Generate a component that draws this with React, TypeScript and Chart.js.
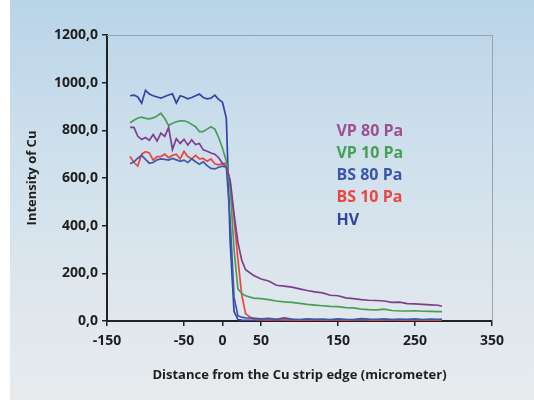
import React, { useEffect, useRef } from "react";
import { Chart, registerables } from "chart.js";

Chart.register(...registerables);

const distances = [
  -120, -115, -110, -105, -100, -95, -90, -85, -80, -75, -70, -65, -60, -55, -50, -45, -40, -35, -30, -25, -20, -15, -10, -5, 0, 5, 10, 15, 20, 25, 30,
  40, 50, 60, 70, 80, 90, 100, 110, 120, 130, 140, 150, 160, 170, 180, 190, 200, 210, 220, 230, 240, 250, 260, 270, 280, 285,
];

const vp80 = [
  812, 812, 775, 762, 770, 758, 782, 755, 788, 775, 812, 720, 765, 745, 762, 738, 760, 740, 745, 718, 712, 705, 700, 685, 662, 645, 590, 450, 330, 255, 215,
  192, 176, 168, 150, 146, 142, 135, 128, 122, 118, 108, 106, 97, 94, 90, 87, 86, 84, 78, 79, 73, 72, 70, 68, 66, 62,
];

const vp10 = [
  832, 842, 852, 855, 850, 848, 852, 860, 872, 850, 820, 830, 836, 840, 840, 835, 825, 815, 795, 795, 805, 815, 805, 770, 725, 670, 560, 300, 135, 116, 106,
  96, 94, 90, 84, 80, 78, 74, 70, 67, 64, 61, 60, 56, 55, 50, 48, 47, 50, 44, 42, 42, 43, 41, 40, 39, 39,
];

const bs80 = [
  660, 668, 683, 695, 678, 662, 665, 676, 680, 678, 675, 682, 676, 670, 675, 665, 680, 668, 658, 668, 652, 640, 638, 645, 650, 645, 420, 100, 22, 16, 13,
  12, 9, 11, 7, 13, 8, 6, 9, 7, 8, 6, 9, 7, 6, 10, 8, 7, 9, 6, 8, 7, 9, 6, 8, 7, 8,
];

const bs10 = [
  690, 665, 650, 700, 710, 705, 675, 690, 690, 700, 685, 695, 700, 680, 712, 690, 680, 695, 680, 682, 670, 680, 660, 655, 660, 662, 580, 430, 260, 110, 30,
  8, 6, 5, 7, 5, 6, 4, 5, 6, 4, 5, 6, 4, 5, 7, 5, 4, 5, 6, 4, 5, 6, 4, 5, 4, 5,
];

const hv = [
  945, 948, 940, 914, 968, 952, 945, 940, 935, 942, 948, 953, 915, 945, 940, 932, 938, 945, 952, 938, 932, 935, 948, 930, 918, 850, 330, 40, 6, 4, 3,
  3, 2, 3, 2, 3, 2, 2, 3, 2, 3, 2, 2, 3, 2, 3, 2, 2, 3, 2, 3, 2, 2, 3, 2, 2, 3,
];

const seriesNames = ["VP 80 Pa", "VP 10 Pa", "BS 80 Pa", "BS 10 Pa", "HV"];
const lineColors = ["#7e3d8e", "#4a9c5a", "#3d5aa8", "#e8473f", "#3344a6"];
const textColors = ["#a04d91", "#44a055", "#3a56a8", "#e8463f", "#33449f"];

const xTicks = [-150, -50, 0, 50, 150, 250, 350];
const yTicks = [0, 200, 400, 600, 800, 1000, 1200];

const xTitle = "Distance from the Cu strip edge (micrometer)";
const yTitle = "Intensity of Cu";

const FONT = "'Open Sans', 'DejaVu Sans', sans-serif";

export default function App() {
  const ref = useRef<HTMLCanvasElement | null>(null);

  useEffect(() => {
    document.body.style.margin = "0";
    const canvas = ref.current;
    if (!canvas) return;
    const allSeries = [vp80, vp10, bs80, bs10, hv];

    const framePlugin = {
      id: "frame",
      afterDraw(chart: any) {
        const { ctx, chartArea } = chart;
        ctx.save();
        ctx.strokeStyle = "#9aa3ab";
        ctx.lineWidth = 1;
        ctx.beginPath();
        ctx.moveTo(chartArea.left, chartArea.top + 0.5);
        ctx.lineTo(chartArea.right + 0.5, chartArea.top + 0.5);
        ctx.lineTo(chartArea.right + 0.5, chartArea.bottom);
        ctx.stroke();
        // legend text
        ctx.font = `bold 16px ${FONT}`;
        ctx.textAlign = "left";
        ctx.textBaseline = "middle";
        const x = chart.scales.x.getPixelForValue(148);
        seriesNames.forEach((name, i) => {
          ctx.fillStyle = textColors[i];
          ctx.fillText(name, x, 131 + i * 22.3);
        });
        ctx.restore();
      },
    };

    const chart = new Chart(canvas, {
      type: "line",
      data: {
        datasets: seriesNames.map((name, i) => ({
          label: name,
          data: distances.map((d, j) => ({ x: d, y: allSeries[i][j] })),
          borderColor: lineColors[i],
          backgroundColor: lineColors[i],
          borderWidth: 1.7,
          pointRadius: 0,
          tension: 0,
          fill: false,
        })),
      },
      options: {
        animation: false,
        responsive: false,
        maintainAspectRatio: false,
        layout: { padding: { top: 35, right: 42, left: 0, bottom: 0 } },
        plugins: {
          legend: { display: false },
          tooltip: { enabled: false },
        },
        scales: {
          x: {
            type: "linear",
            min: -150,
            max: 350,
            afterBuildTicks: (s: any) => {
              s.ticks = xTicks.map((v) => ({ value: v }));
            },
            afterFit: (s: any) => {
              s.height = 80;
            },
            grid: {
              display: true,
              drawOnChartArea: false,
              drawTicks: true,
              tickLength: 5,
              color: "#222",
              lineWidth: 1.5,
            },
            border: { display: true, color: "#222", width: 2 },
            ticks: {
              autoSkip: false,
              maxRotation: 0,
              padding: 7,
              color: "#1e1e1e",
              font: { family: FONT, size: 14, weight: "bold" },
            },
            title: {
              display: true,
              text: xTitle,
              color: "#1e1e1e",
              font: { family: FONT, size: 13, weight: "bold" },
              padding: { top: 0, bottom: 18 },
            },
          },
          y: {
            min: 0,
            max: 1200,
            afterBuildTicks: (s: any) => {
              s.ticks = yTicks.map((v) => ({ value: v }));
            },
            afterFit: (s: any) => {
              s.width = 107;
            },
            grid: {
              display: true,
              drawOnChartArea: false,
              drawTicks: true,
              tickLength: 5,
              color: "#222",
              lineWidth: 1.5,
            },
            border: { display: true, color: "#222", width: 2 },
            ticks: {
              padding: 4,
              color: "#1e1e1e",
              font: { family: FONT, size: 14, weight: "bold" },
              callback: (v: any) => Number(v).toFixed(1).replace(".", ","),
            },
            title: {
              display: true,
              text: yTitle,
              color: "#1e1e1e",
              font: { family: FONT, size: 13, weight: "bold" },
              padding: { top: 24, bottom: 0 },
            },
          },
        },
      },
      plugins: [framePlugin],
    } as any);

    return () => chart.destroy();
  }, []);

  return (
    <div style={{ position: "relative", width: 534, height: 401, background: "#ffffff", overflow: "hidden" }}>
      <div
        style={{
          position: "absolute",
          left: 10,
          top: 0,
          right: 0,
          bottom: 1,
          background: "linear-gradient(to bottom, #b9d4e9 0%, #cddfec 35%, #dde6ed 70%, #e7ebee 100%)",
        }}
      />
      <canvas ref={ref} width={534} height={401} style={{ position: "absolute", left: 0, top: 0 }} />
    </div>
  );
}
